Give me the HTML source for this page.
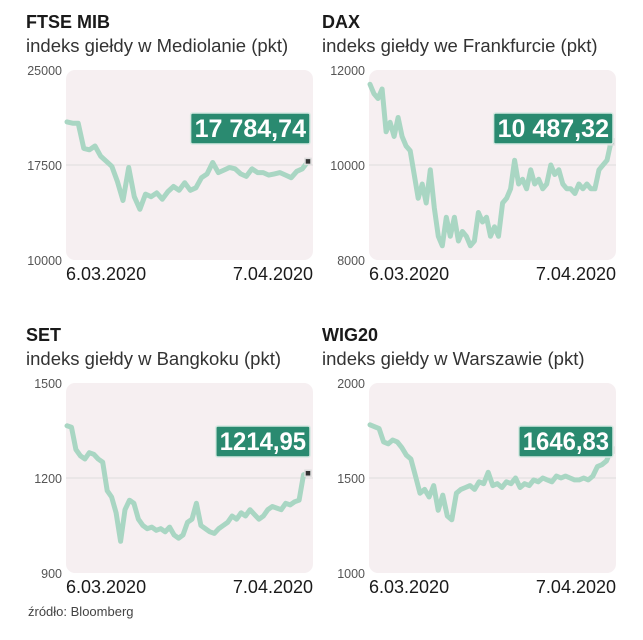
<!DOCTYPE html>
<html><head><meta charset="utf-8">
<style>
html,body{margin:0;padding:0;background:#fff;}
svg{display:block;font-family:"Liberation Sans",sans-serif;}
</style></head>
<body>
<svg id="c" width="643" height="640" viewBox="0 0 643 640"></svg>
<script>
const ftseValues=[20900,20800,20800,18800,18700,19000,18200,17800,17400,16200,14700,17300,15000,14000,15200,15000,15300,14800,15400,15800,15500,16100,15500,15700,16500,16800,17700,16900,17100,17300,17200,16800,16600,17200,16900,16900,16700,16800,16900,16700,16500,17000,17200,17785];
const daxValues=[11700,11500,11400,11600,10700,10900,10600,11000,10600,10400,10300,9800,9300,9600,9200,9900,9100,8500,8300,8900,8500,8900,8400,8600,8500,8300,8400,9000,8800,8900,8500,8700,8500,9200,9300,9500,10100,9600,9700,9500,9900,9600,9700,9500,9600,10000,9800,9900,9600,9500,9500,9400,9600,9500,9600,9500,9500,9900,10000,10100,10487];
const setValues=[1365,1360,1290,1270,1260,1280,1275,1260,1250,1160,1140,1090,1000,1100,1130,1120,1070,1050,1040,1045,1035,1040,1030,1045,1020,1010,1020,1060,1070,1120,1050,1040,1030,1025,1040,1050,1060,1080,1070,1090,1080,1100,1085,1070,1080,1100,1110,1105,1100,1120,1115,1125,1130,1210,1215];
const wigValues=[1780,1770,1760,1690,1680,1700,1690,1660,1620,1600,1510,1420,1440,1400,1460,1330,1410,1300,1280,1420,1440,1450,1460,1440,1480,1470,1530,1460,1470,1450,1480,1470,1500,1450,1470,1460,1490,1480,1500,1490,1480,1510,1500,1510,1500,1490,1490,1500,1490,1510,1560,1570,1590,1647];
const ftseTicks=["25000","17500","10000"];
const daxTicks=["12000","10000","8000"];
const setTicks=["1500","1200","900"];
const wigTicks=["2000","1500","1000"];
const dateLabels=["6.03.2020","7.04.2020"];

const NS="http://www.w3.org/2000/svg";
const svg=document.getElementById('c');
function el(tag,attrs,parent){const e=document.createElementNS(NS,tag);for(const k in attrs)e.setAttribute(k,attrs[k]);(parent||svg).appendChild(e);return e;}

const panels=[
 {key:'ftse',title:'FTSE MIB',sub:'indeks giełdy w Mediolanie (pkt)',vals:ftseValues,ticks:ftseTicks,min:10000,max:25000,label:'17 784,74',x:66,y:70,ty:0,tx:26},
 {key:'dax',title:'DAX',sub:'indeks giełdy we Frankfurcie (pkt)',vals:daxValues,ticks:daxTicks,min:8000,max:12000,label:'10 487,32',x:369,y:70,ty:0,tx:322},
 {key:'set',title:'SET',sub:'indeks giełdy w Bangkoku (pkt)',vals:setValues,ticks:setTicks,min:900,max:1500,label:'1214,95',x:66,y:383,ty:313,tx:26},
 {key:'wig',title:'WIG20',sub:'indeks giełdy w Warszawie (pkt)',vals:wigValues,ticks:wigTicks,min:1000,max:2000,label:'1646,83',x:369,y:383,ty:313,tx:322}
];
const W=247,H=190;
panels.forEach(p=>{
  const g=el('g',{});
  
  
  const tx=p.tx;
  const t=el('text',{x:tx,y:28+p.ty,'font-size':18,'font-weight':'bold',fill:'#1a1a1a'},g);t.textContent=p.title;
  
  const s=el('text',{x:tx,y:52+p.ty,'font-size':18.5,fill:'#333'},g);s.textContent=p.sub;
  
  const bg=el('rect',{x:p.x,y:p.y,width:W,height:H,rx:9,fill:'#f6eff1'},g);
  
  const yS=v=>p.y+H-(v-p.min)/(p.max-p.min)*H;
  const xS=i=>p.x+1+i/(p.vals.length-1)*(W-6);
  const mid=(p.min+p.max)/2;
  const gl=el('line',{x1:p.x,x2:p.x+W,y1:yS(mid),y2:yS(mid),stroke:'#ddd','stroke-width':1},g);
  
  p.ticks.forEach((tk,i)=>{
    const v=p.max-i*(p.max-p.min)/2;
    const tt=el('text',{x:p.x-4,y:yS(v)+5,'font-size':12.5,'text-anchor':'end',fill:'#555'},g);tt.textContent=tk;
    
  });
  dateLabels.forEach((d,i)=>{
    const dt=el('text',{x:i?p.x+W:p.x,y:p.y+H+20,'font-size':18,'text-anchor':i?'end':'start',fill:'#1a1a1a'},g);dt.textContent=d;
    
  });
  const pts=p.vals.map((v,i)=>xS(i).toFixed(1)+','+yS(v).toFixed(1)).join(' ');
  const pl=el('polyline',{points:pts,fill:'none',stroke:'#a9d6c3','stroke-width':5,'stroke-linejoin':'round','stroke-linecap':'round'},g);
  
  const n=p.vals.length-1;
  const mk=el('rect',{x:xS(n)-3,y:yS(p.vals[n])-3,width:6,height:6,fill:'#333',stroke:'#ddd','stroke-width':1.5},g);
  
  const bw=p.label.length*12.6+6;
  const lb=el('rect',{x:p.x+W-3-bw,y:p.y+43,width:bw,height:31,fill:'#2a8a70',stroke:'#d6e9e2','stroke-width':1.5,rx:2},g);
  
  const lt=el('text',{x:p.x+W-3-bw/2,y:p.y+67,'font-size':25,'font-weight':'bold','text-anchor':'middle',fill:'#fff',textLength:bw-8,lengthAdjust:'spacingAndGlyphs'},g);lt.textContent=p.label;
  
});
const src=el('text',{x:28,y:616,'font-size':13,fill:'#444'});src.textContent='źródło: Bloomberg';

</script>
</body></html>
